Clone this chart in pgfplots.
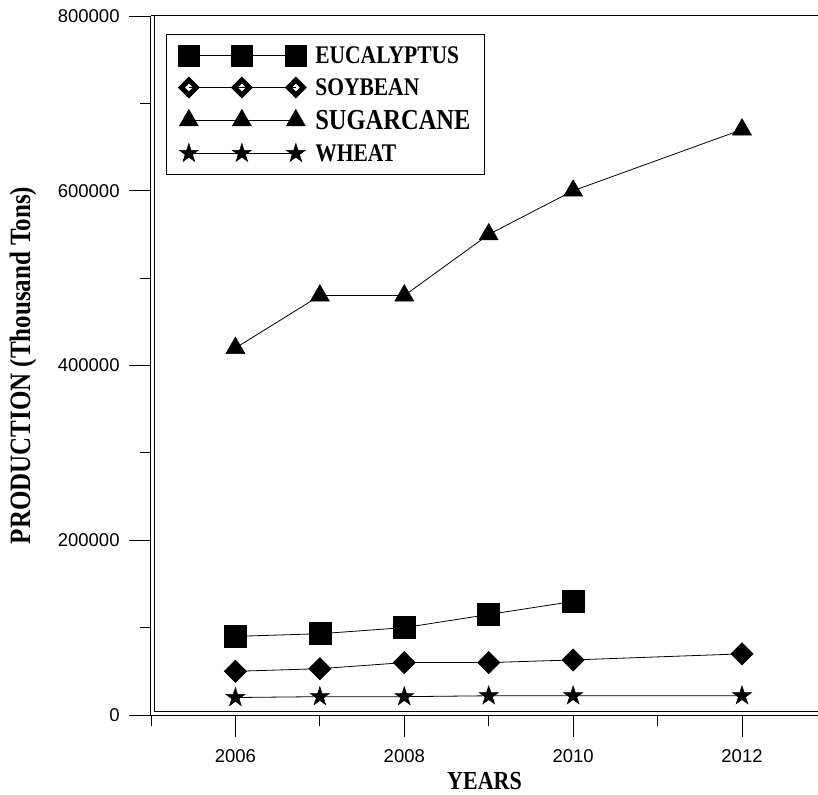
\documentclass[border=0pt]{standalone}
\usepackage{graphicx}
\usepackage{fontspec}
\setmainfont{Liberation Serif}
\newfontfamily\arial{Liberation Sans}
\usepackage{pgfplots}
\pgfplotsset{compat=1.18}
\newcommand{\st}[1]{\scalebox{1}[1.18]{\textbf{#1}}}
\pgfdeclareplotmark{fstar}{%
  \pgfpathmoveto{\pgfpointpolar{90}{\pgfplotmarksize}}%
  \pgfpathlineto{\pgfpointpolar{126}{0.382\pgfplotmarksize}}%
  \pgfpathlineto{\pgfpointpolar{162}{\pgfplotmarksize}}%
  \pgfpathlineto{\pgfpointpolar{198}{0.382\pgfplotmarksize}}%
  \pgfpathlineto{\pgfpointpolar{234}{\pgfplotmarksize}}%
  \pgfpathlineto{\pgfpointpolar{270}{0.382\pgfplotmarksize}}%
  \pgfpathlineto{\pgfpointpolar{306}{\pgfplotmarksize}}%
  \pgfpathlineto{\pgfpointpolar{342}{0.382\pgfplotmarksize}}%
  \pgfpathlineto{\pgfpointpolar{18}{\pgfplotmarksize}}%
  \pgfpathlineto{\pgfpointpolar{54}{0.382\pgfplotmarksize}}%
  \pgfpathclose
  \pgfusepathqfillstroke}
\begin{document}
\begin{tikzpicture}
\begin{axis}[
  scale only axis,
  width=667pt, height=699pt,
  xmin=2005, xmax=2012.9,
  ymin=0, ymax=800000,
  axis lines=left,
  axis line style={-, line width=1pt, black},
  xtick={2006,2008,2010,2012},
  minor x tick num=1,
  extra x ticks={2005},
  extra x tick labels={},
  extra x tick style={major tick length=11pt},
  ytick={0,200000,400000,600000,800000},
  minor y tick num=1,
  scaled y ticks=false,
  tick align=outside,
  major tick length=22pt,
  minor tick length=11pt,
  every tick/.style={black, line width=0.8pt},
  /pgf/number format/assume math mode=true,
  /pgf/number format/set thousands separator={},
  /pgf/number format/fixed,
  ticklabel style={font=\arial\fontsize{18.5}{20}\selectfont},
  yticklabel style={xshift=-6pt},
  xticklabel style={yshift=-9pt},
  xlabel={\st{YEARS}},
  ylabel={\st{PRODUCTION (Thousand Tons)}},
  xlabel style={font=\fontsize{22}{24}\selectfont, at={(axis description cs:0.5,-0.107)}, anchor=base},
  ylabel style={font=\fontsize{25}{27}\selectfont, at={(axis description cs:-0.192,0.5)}, anchor=center},
  legend image code/.code={\draw[#1] plot coordinates {(0pt,0pt) (53pt,0pt) (107pt,0pt)};},
  legend style={at={(0.0225,0.974)}, anchor=north west, draw=black, line width=0.7pt,
    fill=white, font=\fontsize{21.5}{23}\selectfont, row sep=9.5pt, inner xsep=12pt, inner ysep=10pt,
    /tikz/every odd column/.append style={column sep=7pt}},
  legend cell align=left,
  clip=false,
]
% EUCALYPTUS
\addplot[forget plot, black, line width=0.8pt, mark=square*, mark size=11pt,
  mark options={fill=black, line width=0.5pt}] coordinates {
  (2006,90000) (2007,93000) (2008,100000) (2009,115000) (2010,130000)};
% SOYBEAN
\addplot[forget plot, black, line width=0.8pt, mark=square*, mark size=7.9pt,
  mark options={rotate=45, fill=black, line width=0.5pt}] coordinates {
  (2006,50000) (2007,53000) (2008,60000) (2009,60000) (2010,63000) (2012,70000)};
% SUGARCANE
\addplot[forget plot, black, line width=0.8pt, mark=triangle*, mark size=11pt,
  mark options={fill=black, line width=0.5pt}] coordinates {
  (2006,420000) (2007,480000) (2008,480000) (2009,550000) (2010,600000) (2012,670000)};
% WHEAT
\addplot[forget plot, black, line width=0.8pt, mark=fstar, mark size=10pt,
  mark options={fill=black, line width=0.5pt}] coordinates {
  (2006,20000) (2007,21000) (2008,21000) (2009,22000) (2010,22000) (2012,22000)};
\addlegendimage{black, line width=0.8pt, mark=square*, mark size=10.5pt, mark options={fill=black, line width=0.5pt}}
\addlegendentry{\st{EUCALYPTUS}}
\addlegendimage{black, line width=0.8pt, mark=square, mark size=5.3pt, mark options={rotate=45, fill=white, line width=5pt}}
\addlegendentry{\st{SOYBEAN}}
\addlegendimage{black, line width=0.8pt, mark=triangle*, mark size=11pt, mark options={fill=black, line width=0.5pt}}
\addlegendentry{\fontsize{24.5}{26}\selectfont\st{SUGARCANE}}
\addlegendimage{black, line width=0.8pt, mark=fstar, mark size=10pt, mark options={fill=black, line width=0.5pt}}
\addlegendentry{\st{WHEAT}}
\end{axis}
\draw[black, line width=1pt] (current axis.north west) -- (current axis.north east);
\draw[black, line width=1pt] ([xshift=3pt]current axis.north west) -- ([xshift=3pt,yshift=3pt]current axis.south west) -- ([yshift=3pt]current axis.south east);
\pgfresetboundingbox
\path ([xshift=-151pt,yshift=-79pt]current axis.south west) rectangle ([yshift=16pt]current axis.north east);
\end{tikzpicture}
\end{document}
